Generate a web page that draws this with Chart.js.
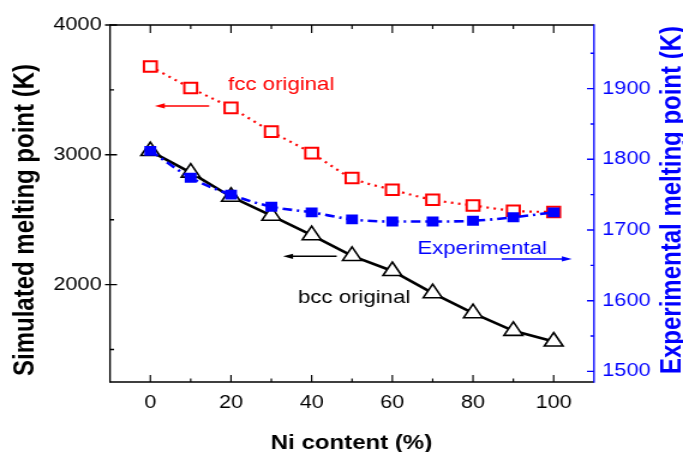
<!DOCTYPE html>
<html>
<head>
<meta charset="utf-8">
<script src="https://cdn.jsdelivr.net/npm/chart.js@4.4.1/dist/chart.umd.min.js"></script>
<style>
  html, body { margin: 0; padding: 0; background: #fff; overflow: hidden; }
  /* the original picture is stretched sideways, so is this one */
  #wrap { width: 569px; height: 452px; transform: scaleX(1.20035); transform-origin: 0 0; }
</style>
</head>
<body>
<div id="wrap"><canvas id="myChart"></canvas></div>
<script>
// Ni content (%)
const niContent = [0, 10, 20, 30, 40, 50, 60, 70, 80, 90, 100];
// simulated melting point (K), left axis
const fccOriginal = [3680, 3515, 3362, 3179, 3013, 2821, 2731, 2654, 2610, 2569, 2559];
const bccOriginal = [3029, 2863, 2677, 2531, 2381, 2221, 2105, 1934, 1780, 1644, 1562];
// experimental melting point (K), right axis
const experimental = [1812, 1774, 1750, 1733, 1725, 1715, 1712, 1712, 1713, 1718, 1725];

// tick labels
const xTicks = [0, 20, 40, 60, 80, 100];
const xMinor = [10, 30, 50, 70, 90];
const leftTicks = [2000, 3000, 4000];
const leftMinor = [1500, 2500, 3500];
const rightTicks = [1500, 1600, 1700, 1800, 1900];
const rightMinor = [1550, 1650, 1750, 1850, 1950];

const S = 1.20035; // horizontal stretch
const RED = '#ff0000';
const BLUE = '#0000ff';
const FONT = "'Liberation Sans', Arial, sans-serif";

Chart.defaults.font.family = FONT;

const toPoints = arr => niContent.map((x, i) => ({ x: x, y: arr[i] }));
const plainLabel = v => String(v);

// labels and arrows (data coordinates, left axis)
const notes = [
  { text: 'fcc original', x: 19.3, y: 3500, color: RED },
  { text: 'bcc original', x: 36.6, y: 1856, color: '#000' },
  { text: 'Experimental', x: 66.2, y: 2236, color: BLUE }
];
const arrows = [
  { from: 14.6, to: 1.1, y: 3377, color: RED },
  { from: 46.2, to: 32.9, y: 2218, color: '#000' },
  { from: 87.1, to: 104.5, y: 2198, color: BLUE }
];

const frameAndTicks = {
  id: 'frameAndTicks',
  afterDraw(chart) {
    const ctx = chart.ctx;
    const a = chart.chartArea;
    const xs = chart.scales.x, yl = chart.scales.y, yr = chart.scales.y2;
    ctx.save();
    ctx.lineCap = 'butt';

    // frame
    ctx.strokeStyle = '#000';
    ctx.lineWidth = 1.6;
    ctx.beginPath();
    ctx.moveTo(a.left, a.top); ctx.lineTo(a.right, a.top);
    ctx.moveTo(a.left, a.bottom); ctx.lineTo(a.right, a.bottom);
    ctx.stroke();
    ctx.lineWidth = 1.6 / S;
    ctx.beginPath();
    ctx.moveTo(a.left, a.top - 0.8); ctx.lineTo(a.left, a.bottom + 0.8);
    ctx.stroke();

    // x ticks, top and bottom, inward
    ctx.lineWidth = 1.4 / S;
    ctx.beginPath();
    xTicks.forEach(v => {
      const p = xs.getPixelForValue(v);
      ctx.moveTo(p, a.bottom); ctx.lineTo(p, a.bottom - 7);
      ctx.moveTo(p, a.top); ctx.lineTo(p, a.top + 8);
    });
    xMinor.forEach(v => {
      const p = xs.getPixelForValue(v);
      ctx.moveTo(p, a.bottom); ctx.lineTo(p, a.bottom - 3.5);
      ctx.moveTo(p, a.top); ctx.lineTo(p, a.top + 4);
    });
    ctx.stroke();

    // left ticks
    ctx.lineWidth = 1.4;
    ctx.beginPath();
    leftTicks.forEach(v => {
      const p = yl.getPixelForValue(v);
      ctx.moveTo(a.left - 5 / S, p); ctx.lineTo(a.left + 7 / S, p);
    });
    leftMinor.forEach(v => {
      const p = yl.getPixelForValue(v);
      ctx.moveTo(a.left, p); ctx.lineTo(a.left + 4 / S, p);
    });
    ctx.stroke();

    // right axis in blue
    ctx.strokeStyle = BLUE;
    ctx.lineWidth = 1.6 / S;
    ctx.beginPath();
    ctx.moveTo(a.right, a.top - 0.8); ctx.lineTo(a.right, a.bottom + 0.8);
    ctx.stroke();
    ctx.lineWidth = 1.4;
    ctx.beginPath();
    rightTicks.forEach(v => {
      const p = yr.getPixelForValue(v);
      ctx.moveTo(a.right, p); ctx.lineTo(a.right - 7 / S, p);
    });
    rightMinor.forEach(v => {
      const p = yr.getPixelForValue(v);
      ctx.moveTo(a.right, p); ctx.lineTo(a.right - 3.5 / S, p);
    });
    ctx.stroke();

    // notes
    ctx.font = '18.5px ' + FONT;
    ctx.textAlign = 'left';
    ctx.textBaseline = 'alphabetic';
    notes.forEach(n => {
      ctx.fillStyle = n.color;
      ctx.fillText(n.text, xs.getPixelForValue(n.x), yl.getPixelForValue(n.y));
    });

    // arrows
    arrows.forEach(ar => {
      const x0 = xs.getPixelForValue(ar.from), x1 = xs.getPixelForValue(ar.to);
      const y = yl.getPixelForValue(ar.y);
      const dir = x1 > x0 ? 1 : -1;
      const head = 10 / S;
      ctx.strokeStyle = ar.color;
      ctx.fillStyle = ar.color;
      ctx.lineWidth = 1.5;
      ctx.beginPath();
      ctx.moveTo(x0, y); ctx.lineTo(x1 - dir * head * 0.8, y);
      ctx.stroke();
      ctx.beginPath();
      ctx.moveTo(x1, y);
      ctx.lineTo(x1 - dir * head, y - 2.6);
      ctx.lineTo(x1 - dir * head, y + 2.6);
      ctx.closePath();
      ctx.fill();
    });

    // axis titles
    ctx.font = 'bold 24px ' + FONT;
    ctx.textAlign = 'center';
    ctx.fillStyle = '#000';
    ctx.save();
    ctx.translate(33.3 / S, 220);
    ctx.rotate(-Math.PI / 2);
    ctx.fillText('Simulated melting point (K)', 0, 0);
    ctx.restore();

    ctx.fillStyle = BLUE;
    ctx.save();
    ctx.translate(681 / S, 200);
    ctx.rotate(-Math.PI / 2);
    ctx.fillText('Experimental melting point (K)', 0, 0);
    ctx.restore();

    ctx.font = 'bold 20px ' + FONT;
    ctx.fillStyle = '#000';
    ctx.fillText('Ni content (%)', 351.5 / S, 449);
    ctx.restore();
  }
};

const ctx = document.getElementById('myChart');

const myChart = new Chart(ctx, {
  type: 'line',
  data: {
    datasets: [
      {
        label: 'Experimental',
        data: toPoints(experimental),
        yAxisID: 'y2',
        borderColor: BLUE,
        borderWidth: 2.6,
        borderDash: [8, 4, 2, 4],
        cubicInterpolationMode: 'monotone',
        pointStyle: 'rect',
        pointRadius: 7,
        pointBorderWidth: 0,
        pointBackgroundColor: BLUE,
        pointBorderColor: BLUE
      },
      {
        label: 'fcc original',
        data: toPoints(fccOriginal),
        yAxisID: 'y',
        borderColor: RED,
        borderWidth: 2.2,
        borderDash: [2, 4],
        cubicInterpolationMode: 'monotone',
        pointStyle: 'rect',
        pointRadius: 7.5,
        pointBorderWidth: 2,
        pointBackgroundColor: '#fff',
        pointBorderColor: RED
      },
      {
        label: 'bcc original',
        data: toPoints(bccOriginal),
        yAxisID: 'y',
        borderColor: '#000',
        borderWidth: 2.6,
        tension: 0,
        pointStyle: 'triangle',
        pointRadius: 9,
        pointBorderWidth: 1.6,
        pointBackgroundColor: '#fff',
        pointBorderColor: '#000'
      }
    ]
  },
  options: {
    responsive: true,
    maintainAspectRatio: false,
    animation: false,
    devicePixelRatio: 1,
    layout: { padding: { top: 25, left: 0, right: 0, bottom: 0 } },
    plugins: { legend: { display: false }, tooltip: { enabled: false } },
    scales: {
      x: {
        type: 'linear',
        position: 'bottom',
        min: -10,
        max: 110,
        afterBuildTicks: s => { s.ticks = xTicks.map(v => ({ value: v })); },
        afterFit: s => { s.height = 70; },
        grid: { display: false, drawTicks: false },
        border: { display: false },
        ticks: { color: '#000', font: { size: 18 }, padding: 10, maxRotation: 0, autoSkip: false, callback: plainLabel }
      },
      y: {
        position: 'left',
        min: 1250,
        max: 4000,
        afterBuildTicks: s => { s.ticks = leftTicks.map(v => ({ value: v })); },
        afterFit: s => { s.width = 110 / S; },
        grid: { display: false, drawTicks: false },
        border: { display: false },
        ticks: { color: '#000', font: { size: 18 }, padding: 7, callback: plainLabel }
      },
      y2: {
        position: 'right',
        min: 1485,
        max: 1990,
        afterBuildTicks: s => { s.ticks = rightTicks.map(v => ({ value: v })); },
        afterFit: s => { s.width = 569 - 594 / S; },
        grid: { display: false, drawTicks: false },
        border: { display: false },
        ticks: { color: BLUE, font: { size: 18 }, padding: 7, callback: plainLabel }
      }
    }
  },
  plugins: [frameAndTicks]
});
</script>
</body>
</html>
